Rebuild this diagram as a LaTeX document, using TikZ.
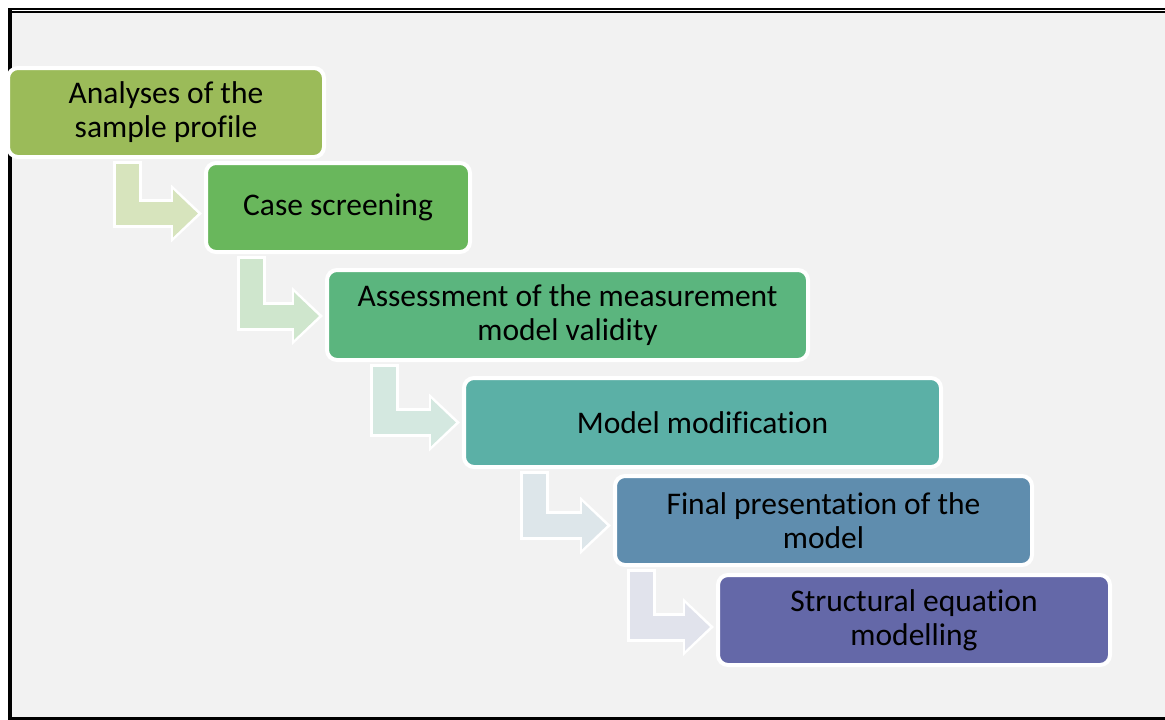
\documentclass[tikz,border=0pt]{standalone}
\usepackage{fontspec}
\setmainfont{Carlito}[Ligatures=NoCommon]
\usetikzlibrary{positioning, arrows.meta, calc}

\definecolor{pagegray}{HTML}{F2F2F2}
\definecolor{boxa}{HTML}{9BBB59}
\definecolor{boxb}{HTML}{69B75C}
\definecolor{boxc}{HTML}{5BB57E}
\definecolor{boxd}{HTML}{5BB0A6}
\definecolor{boxe}{HTML}{5F8DAE}
\definecolor{boxf}{HTML}{6468A8}
\definecolor{arra}{HTML}{D7E4BD}
\definecolor{arrb}{HTML}{CFE6CD}
\definecolor{arrc}{HTML}{D4E8E0}
\definecolor{arrd}{HTML}{DDE6EA}
\definecolor{arre}{HTML}{E1E3EC}

\begin{document}
\begin{tikzpicture}[x=1pt, y=-1pt, font=\fontsize{31.5}{34}\selectfont]
                \tikzstyle{stage} = [draw=white, line width=4pt, rounded corners=10pt, inner sep=0pt, align=center, minimum height=89pt]
                \tikzstyle{flowback} = [white, line width=29pt, shorten <=-3pt, -{Triangle[length=31pt, width=56pt]}]
                \tikzstyle{flow} = [line width=23pt, shorten >=4pt, -{Triangle[length=25pt, width=46pt]}]

                \useasboundingbox (0,0) rectangle (1165,720);

                % Frame and background
                \fill[pagegray] (12,13) rectangle (1165,717);
                \draw[line width=2pt] (8,9) -- (1165,9);
                \draw[line width=2pt] (10,12) -- (1165,12);
                \draw[line width=4pt] (10,8) -- (10,719);
                \draw[line width=2.5pt] (8,718.5) -- (1165,718.5);

                % Steps (top left to bottom right)
                \node[stage, fill=boxa, minimum width=316pt] (b1) at (166,112.5) {Analyses of the\\sample profile};
                \node[stage, fill=boxb, minimum width=264pt] (b2) at (338,207.5) {Case screening};
                \node[stage, fill=boxc, minimum width=481pt, minimum height=90pt] (b3) at (567.5,315) {Assessment of the measurement\\model validity};
                \node[stage, fill=boxd, minimum width=477pt] (b4) at (702.5,422.5) {Model modification};
                \node[stage, fill=boxe, minimum width=417pt] (b5) at (823.5,520.5) {Final presentation of the\\model};
                \node[stage, fill=boxf, minimum width=392pt, minimum height=90pt] (b6) at (914,620) {Structural equation\\modelling};

                % Bent arrows between the steps
                \draw[flowback] ($(b1.south -| b2.west)+(-77,5)$) |- ($(b2.west)+(-2,6)$);
                \draw[flow, arra] ($(b1.south -| b2.west)+(-77,5)$) |- ($(b2.west)+(-2,6)$);
                \draw[flowback] ($(b2.south -| b3.west)+(-74,5)$) |- ($(b3.west)+(-2,1)$);
                \draw[flow, arrb] ($(b2.south -| b3.west)+(-74,5)$) |- ($(b3.west)+(-2,1)$);
                \draw[flowback] ($(b3.south -| b4.west)+(-78,5)$) |- ($(b4.west)+(-2,0)$);
                \draw[flow, arrc] ($(b3.south -| b4.west)+(-78,5)$) |- ($(b4.west)+(-2,0)$);
                \draw[flowback] ($(b4.south -| b5.west)+(-79,5)$) |- ($(b5.west)+(-2,5)$);
                \draw[flow, arrd] ($(b4.south -| b5.west)+(-79,5)$) |- ($(b5.west)+(-2,5)$);
                \draw[flowback] ($(b5.south -| b6.west)+(-75,5)$) |- ($(b6.west)+(-2,7)$);
                \draw[flow, arre] ($(b5.south -| b6.west)+(-75,5)$) |- ($(b6.west)+(-2,7)$);
\end{tikzpicture}
\end{document}
